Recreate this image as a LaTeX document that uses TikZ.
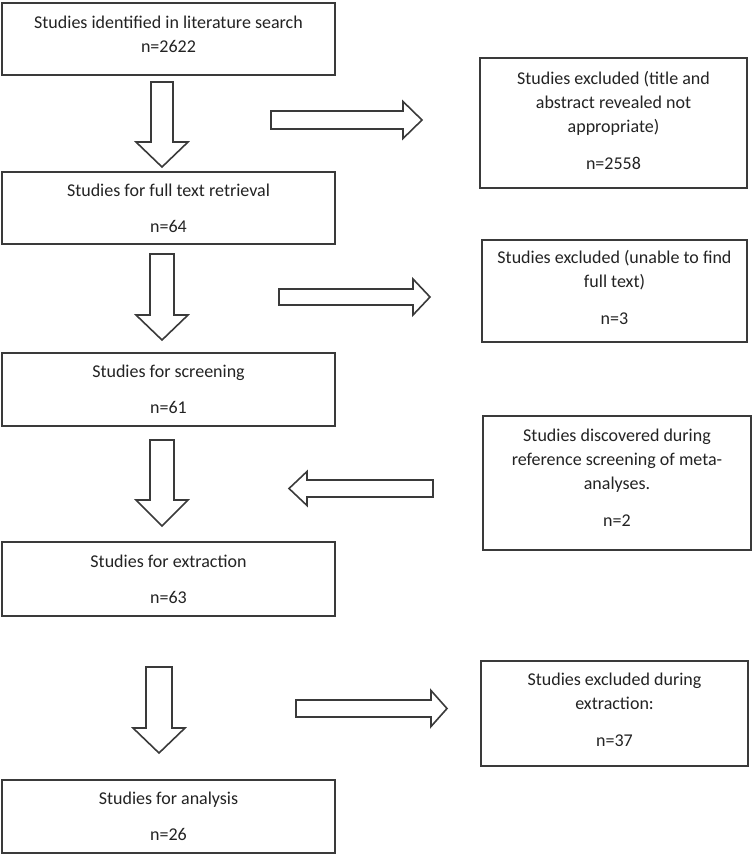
\documentclass[tikz,border=0pt]{standalone}
\usepackage{fontspec}
\setmainfont{Carlito}
\usetikzlibrary{positioning}
\definecolor{linegray}{RGB}{58,58,58}
\definecolor{textgray}{RGB}{35,35,35}
\tikzset{
    stagebox/.style={
        rectangle, draw=linegray, line width=1.6pt, fill=white,
        align=center, text=textgray, inner sep=0pt,
        font=\fontsize{18}{24}\selectfont
    },
    leftbox/.style={stagebox, minimum width=333pt, minimum height=72pt},
    sidebox/.style={stagebox, minimum width=267pt, text depth=7pt},
    arrowline/.style={draw=linegray, line width=1.6pt, line join=miter, fill=white}
}
% tail, angle, length, half shaft, half head, head length
\newcommand{\fatarrow}[6]{%
    \draw[arrowline, shift={#1}, rotate=#2]
        (0,-#4) -- ({#3-#6},-#4) -- ({#3-#6},-#5) -- (#3,0)
        -- ({#3-#6},#5) -- ({#3-#6},#4) -- (0,#4) -- cycle;}
\begin{document}
\begin{tikzpicture}[x=1pt, y=-1pt]
    \useasboundingbox (0,0) rectangle (752,854);

    % Main stages
    \node[leftbox, text depth=10pt] (identified) at (168.5,39) {Studies identified in literature search\\n=2622};
    \node[leftbox] (retrieval) at (168.5,208) {Studies for full text retrieval\\[12pt]n=64};
    \node[leftbox, minimum height=73pt] (screening) at (168.5,389.5) {Studies for screening\\[12pt]n=61};
    \node[leftbox, minimum height=74pt] (extraction) at (168.5,579) {Studies for extraction\\[12pt]n=63};
    \node[leftbox, minimum height=73pt] (analysis) at (168.5,816.5) {Studies for analysis\\[12pt]n=26};

    % Side boxes
    \node[sidebox, minimum height=130pt, text depth=5pt] (exclabs) at (613.5,123)
        {Studies excluded (title and\\abstract revealed not\\appropriate)\\[13pt]n=2558};
    \node[sidebox, minimum width=265pt, minimum height=102pt] (exctext) at (614.5,291)
        {Studies excluded (unable to find\\full text)\\[13pt]n=3};
    \node[sidebox, minimum width=268pt, minimum height=134pt, text depth=10pt] (discovered) at (617,483)
        {Studies discovered during\\reference screening of meta-\\analyses.\\[13pt]n=2};
    \node[sidebox, minimum height=105pt, text depth=8pt] (excextr) at (614.5,713.5)
        {Studies excluded during\\extraction:\\[13pt]n=37};

    % Block arrows down
    \fatarrow{(162,82)}{-90}{85}{11}{26}{25}
    \fatarrow{(162,254)}{-90}{86}{12}{26}{25}
    \fatarrow{(162,440)}{-90}{86}{12}{26}{26}
    \fatarrow{(159,667)}{-90}{86}{13}{26}{25}

    % Block arrows sideways
    \fatarrow{(271,120)}{0}{151}{9}{18.5}{19}
    \fatarrow{(279,297)}{0}{151}{8}{18}{17}
    \fatarrow{(433,488.5)}{180}{144}{8.5}{17}{18}
    \fatarrow{(296,708.5)}{0}{151}{8.5}{18}{16}
\end{tikzpicture}
\end{document}
